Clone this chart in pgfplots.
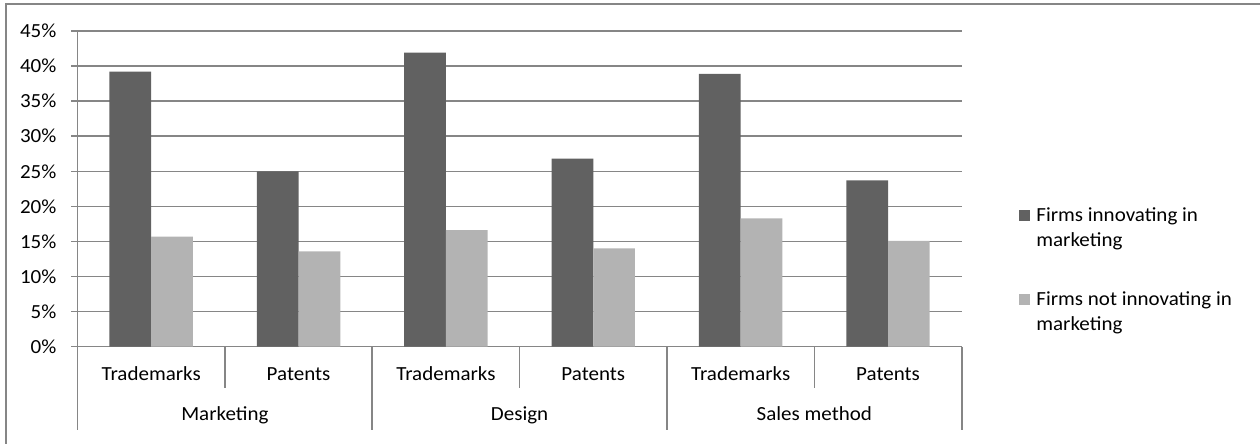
\documentclass[border=0pt]{standalone}
\usepackage{pgfplots}
\pgfplotsset{compat=1.18}
\usepackage{fontspec}
\setmainfont{Carlito}[FakeStretch=1.05]
\definecolor{darkbar}{RGB}{97,97,97}
\definecolor{lightbar}{RGB}{179,179,179}
\definecolor{rulegray}{RGB}{134,134,134}

\begin{document}
\begin{tikzpicture}[font=\fontsize{10pt}{12.5pt}\selectfont]
\useasboundingbox (0,0) rectangle (630pt,222pt);
% chart frame
\begin{scope}
  \clip (0,0) rectangle (630pt,222pt);
  \draw[rulegray, line width=1pt] (3pt,-5pt) rectangle (640pt,219.75pt);
\end{scope}
\begin{axis}[
  at={(38.75pt,48.65pt)}, anchor=south west,
  scale only axis, width=442.1pt, height=157.85pt,
  xmin=-0.5, xmax=5.5, ymin=0, ymax=45,
  clip=false,
  axis lines*=left,
  axis line style={rulegray, line width=0.8pt},
  ybar=0pt, bar width=20.85pt,
  xtick=\empty,
  ytick={0,5,10,15,20,25,30,35,40,45},
  yticklabels={0\%,5\%,10\%,15\%,20\%,25\%,30\%,35\%,40\%,45\%},
  ytick align=outside, major tick length=3pt,
  ytick style={rulegray, line width=0.8pt},
  yticklabel style={anchor=east, inner sep=0pt, xshift=-7.4pt},
  ymajorgrids, grid style={rulegray, line width=0.8pt},
  legend style={draw=none, fill=none, at={(1.0648,0.4425)}, anchor=north west,
    inner sep=0pt, row sep=21pt, column sep=3pt,
    nodes={inner sep=0pt, align=left, anchor=base west}},
  legend cell align=left,
]
% legend squares sit beside the first of the two text lines
\addplot[fill=darkbar, draw=none,
  legend image code/.code={\fill[darkbar] (0pt,12.5pt) rectangle (5.5pt,18pt);}]
  coordinates {(0,39.2) (1,25.0) (2,41.9) (3,26.8) (4,38.9) (5,23.7)};
\addlegendentry{Firms innovating in\\marketing}
\addplot[fill=lightbar, draw=none,
  legend image code/.code={\fill[lightbar] (0pt,12.5pt) rectangle (5.5pt,18pt);}]
  coordinates {(0,15.7) (1,13.6) (2,16.6) (3,14.0) (4,18.3) (5,15.1)};
\addlegendentry{Firms not innovating in\\marketing}

% two-level category axis: separators
\draw[rulegray, line width=0.8pt] (axis cs:0.5,0) -- ([yshift=-20.5pt]axis cs:0.5,0);
\draw[rulegray, line width=0.8pt] (axis cs:2.5,0) -- ([yshift=-20.5pt]axis cs:2.5,0);
\draw[rulegray, line width=0.8pt] (axis cs:4.5,0) -- ([yshift=-20.5pt]axis cs:4.5,0);
\draw[rulegray, line width=0.8pt] (axis cs:-0.5,0) -- ([yshift=-41.5pt]axis cs:-0.5,0);
\draw[rulegray, line width=0.8pt] (axis cs:1.5,0) -- ([yshift=-41.5pt]axis cs:1.5,0);
\draw[rulegray, line width=0.8pt] (axis cs:3.5,0) -- ([yshift=-41.5pt]axis cs:3.5,0);
\draw[rulegray, line width=0.8pt] (axis cs:5.5,0) -- ([yshift=-41.5pt]axis cs:5.5,0);
% inner level labels
\node[anchor=base, inner sep=0pt] at ([yshift=-17.15pt]axis cs:0,0) {Trademarks};
\node[anchor=base, inner sep=0pt] at ([yshift=-17.15pt]axis cs:1,0) {Patents};
\node[anchor=base, inner sep=0pt] at ([yshift=-17.15pt]axis cs:2,0) {Trademarks};
\node[anchor=base, inner sep=0pt] at ([yshift=-17.15pt]axis cs:3,0) {Patents};
\node[anchor=base, inner sep=0pt] at ([yshift=-17.15pt]axis cs:4,0) {Trademarks};
\node[anchor=base, inner sep=0pt] at ([yshift=-17.15pt]axis cs:5,0) {Patents};
% outer level labels
\node[anchor=base, inner sep=0pt] at ([yshift=-37.15pt]axis cs:0.5,0) {Marketing};
\node[anchor=base, inner sep=0pt] at ([yshift=-37.15pt]axis cs:2.5,0) {Design};
\node[anchor=base, inner sep=0pt] at ([yshift=-37.15pt]axis cs:4.5,0) {Sales method};
\end{axis}
\end{tikzpicture}
\end{document}
